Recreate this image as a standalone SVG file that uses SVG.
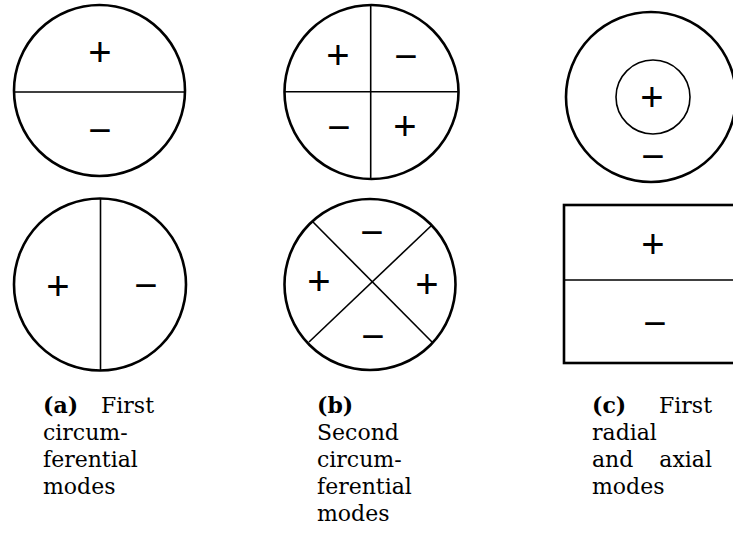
<svg xmlns="http://www.w3.org/2000/svg" width="733" height="542" viewBox="0 0 733 542">
<style>
.o{fill:none;stroke:#000;stroke-width:2.6}
.l{fill:none;stroke:#000;stroke-width:1.6}
.s{font-family:"Liberation Sans",Arial,sans-serif;font-size:40px;text-anchor:middle;fill:#000}
.c{font-family:"DejaVu Serif","Liberation Serif",serif;font-size:22px;fill:#000}
.b{font-weight:bold}
.e{text-anchor:end}
</style>
<rect width="733" height="542" fill="#fff"/>
<g id="a-top">
<circle class="o" cx="99.5" cy="90.5" r="85.5"/>
<line class="l" x1="14" y1="92" x2="185" y2="92"/>
<text class="s" x="100" y="65.5">+</text>
<text class="s" x="100" y="143.5">−</text>
</g>
<g id="a-bottom">
<circle class="o" cx="100" cy="284.5" r="86"/>
<line class="l" x1="100.5" y1="198.5" x2="100.5" y2="370.5"/>
<text class="s" x="58" y="299.5">+</text>
<text class="s" x="146" y="298.5">−</text>
</g>
<g id="b-top">
<circle class="o" cx="371.5" cy="92" r="87"/>
<line class="l" x1="370.7" y1="5" x2="370.7" y2="179"/>
<line class="l" x1="284.5" y1="91.7" x2="458.5" y2="91.7"/>
<text class="s" x="338" y="68.5">+</text>
<text class="s" x="406" y="69.5">−</text>
<text class="s" x="339" y="140.5">−</text>
<text class="s" x="405" y="139.5">+</text>
</g>
<g id="b-bottom">
<circle class="o" cx="370" cy="284.5" r="85.5"/>
<line class="l" x1="313" y1="222" x2="433" y2="343"/>
<line class="l" x1="432" y1="225" x2="309" y2="342"/>
<text class="s" x="372" y="245.5">−</text>
<text class="s" x="319" y="294.5">+</text>
<text class="s" x="427" y="297.5">+</text>
<text class="s" x="373" y="349.5">−</text>
</g>
<g id="c-top">
<circle class="o" cx="651" cy="97" r="85"/>
<circle class="l" cx="653" cy="97" r="37"/>
<text class="s" x="652" y="110.5">+</text>
<text class="s" x="653" y="169.5">−</text>
</g>
<g id="c-bottom">
<rect class="o" x="564" y="205" width="180" height="158"/>
<line class="l" x1="564" y1="280" x2="734" y2="280"/>
<text class="s" x="653" y="257.5">+</text>
<text class="s" x="655" y="336.5">−</text>
</g>
<g id="connectors"/>
<g id="caption-a">
<text class="c b" x="43" y="413">(a)</text>
<text class="c e" x="154" y="413">First</text>
<text class="c" x="43" y="440">circum-</text>
<text class="c" x="43" y="467">ferential</text>
<text class="c" x="43" y="494">modes</text>
</g>
<g id="caption-b">
<text class="c b" x="317" y="413">(b)</text>
<text class="c" x="317" y="440">Second</text>
<text class="c" x="317" y="467">circum-</text>
<text class="c" x="317" y="494">ferential</text>
<text class="c" x="317" y="521">modes</text>
</g>
<g id="caption-c">
<text class="c b" x="592" y="413">(c)</text>
<text class="c e" x="712" y="413">First</text>
<text class="c" x="592" y="440">radial</text>
<text class="c" x="592" y="467">and</text>
<text class="c e" x="712" y="467">axial</text>
<text class="c" x="592" y="494">modes</text>
</g>
</svg>
